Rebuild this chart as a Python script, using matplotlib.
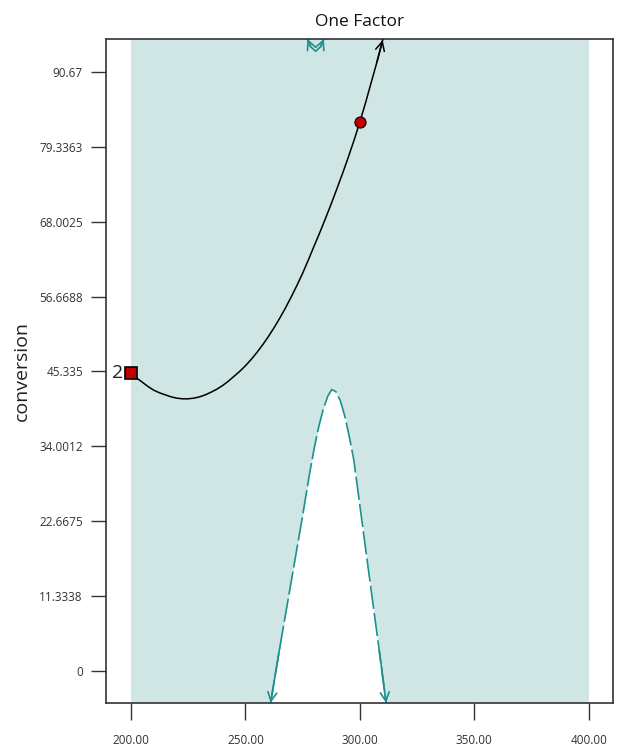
import numpy as np
import matplotlib.pyplot as plt

# factor settings and predicted response (black curve)
temp = [200, 202.5, 205, 207.5, 210, 212.5, 215, 217.5, 220, 222.5, 225, 227.5,
        230, 232.5, 235, 237.5, 240, 242.5, 245, 247.5, 250, 252.5, 255, 257.5,
        260, 262.5, 265, 267.5, 270, 272.5, 275, 277.5, 280, 282.5, 285, 287.5,
        290, 292.5, 295, 297.5, 300, 302.5, 305, 307.5, 310]
conversion = [45.1, 44.35, 43.7, 43.05, 42.5, 42.1, 41.8, 41.5, 41.3, 41.2, 41.2, 41.3,
              41.5, 41.8, 42.2, 42.65, 43.2, 43.85, 44.6, 45.35, 46.2, 47.15, 48.2, 49.35,
              50.6, 51.95, 53.4, 54.95, 56.6, 58.35, 60.2, 62.2, 64.3, 66.35, 68.5, 70.7,
              73.0, 75.35, 77.8, 80.35, 83.1, 86.0, 89.1, 92.2, 95.5]

# lower boundary curve (teal dashed), the region under it is left unshaded
band_x = [261.0, 265.0, 270.0, 275.0, 278.0, 280.0, 282.0, 284.0, 286.0, 287.7,
          289.5, 291.5, 293.5, 295.5, 297.4, 301.0, 305.0, 308.5, 311.5]
band_y = [-4.84, 3.5, 13.5, 23.5, 29.8, 33.6, 36.9, 39.6, 41.6, 42.6,
          42.3, 40.9, 38.5, 35.3, 31.9, 22.5, 12.1, 3.1, -4.84]

# upper boundary curve dipping just below the top of the plot
top_x = [277.1, 278.5, 280.7, 282.9, 284.3]
top_y = [95.66, 94.5, 93.8, 94.5, 95.66]

x_range = (200, 400)
yticks = [0, 11.3338, 22.6675, 34.0012, 45.335, 56.6688, 68.0025, 79.3363, 90.67]
ytick_labels = ['0', '11.3338', '22.6675', '34.0012', '45.335',
                '56.6688', '68.0025', '79.3363', '90.67']
xticks = [200, 250, 300, 350, 400]
current_x, current_y = 300, 83.1
design_point = (200, 45.1)

teal = '#1b9190'
shade = '#cfe6e5'
ymin, ymax = -4.84, 95.66

plt.rcParams['font.family'] = ['Open Sans', 'DejaVu Sans']
fig = plt.figure(figsize=(6.17, 7.51), dpi=100)
ax = fig.add_axes([0.1726, 0.0639, 0.8204, 0.8842])


def end_arrow(xs, ys, i, j, color, lw):
    # open arrowhead at point i, pointing away from point j
    ax.annotate('', xy=(xs[i], ys[i]), xytext=(xs[j], ys[j]),
                arrowprops=dict(arrowstyle='->', color=color, lw=lw,
                                mutation_scale=16, shrinkA=0, shrinkB=0),
                annotation_clip=False)


# shaded factor range, with the region under the lower boundary cut out
ax.axvspan(x_range[0], x_range[1], color=shade, lw=0, zorder=0)
ax.fill_between(band_x, band_y, ymin, color='white', lw=0, zorder=1)

ax.plot(band_x, band_y, color=teal, lw=1.2, dashes=(14, 2.5), zorder=2)
end_arrow(band_x, band_y, 0, 1, teal, 1.2)
end_arrow(band_x, band_y, -1, -2, teal, 1.2)

ax.plot(top_x, top_y, color=teal, lw=1.2, zorder=2)
end_arrow(top_x, top_y, 0, 1, teal, 1.2)
end_arrow(top_x, top_y, -1, -2, teal, 1.2)

# predicted response
ax.plot(temp, conversion, color='black', lw=1.1, zorder=3)
end_arrow(temp, conversion, -1, -2, 'black', 1.1)

ax.plot(current_x, current_y, 'o', ms=8, mfc='#c00000', mec='black', mew=0.8, zorder=5)
ax.plot(*design_point, 's', ms=8, mfc='#c00000', mec='black', mew=1.2, zorder=5,
        clip_on=False)
ax.text(design_point[0] - 3.5, design_point[1], '2', ha='right', va='center',
        fontsize=14, color='#222222')

ax.set_xlim(189.3, 410.5)
ax.set_ylim(ymin, ymax)
ax.set_xticks(xticks)
ax.set_xticklabels(['%.2f' % v for v in xticks])
ax.set_yticks(yticks)
ax.set_yticklabels(ytick_labels)
ax.tick_params(length=11, width=1, color='#333333', labelsize=8.5,
               labelcolor='#333333', pad=6)
ax.tick_params(axis='x', length=12, pad=10)
for s in ax.spines.values():
    s.set_linewidth(1.2)
    s.set_color('#333333')

ax.set_title('One Factor', fontsize=12.5, pad=9, color='#111111')
ax.set_ylabel('conversion', fontsize=14, labelpad=6, color='#222222')

fig.savefig('out.png', dpi=100)
